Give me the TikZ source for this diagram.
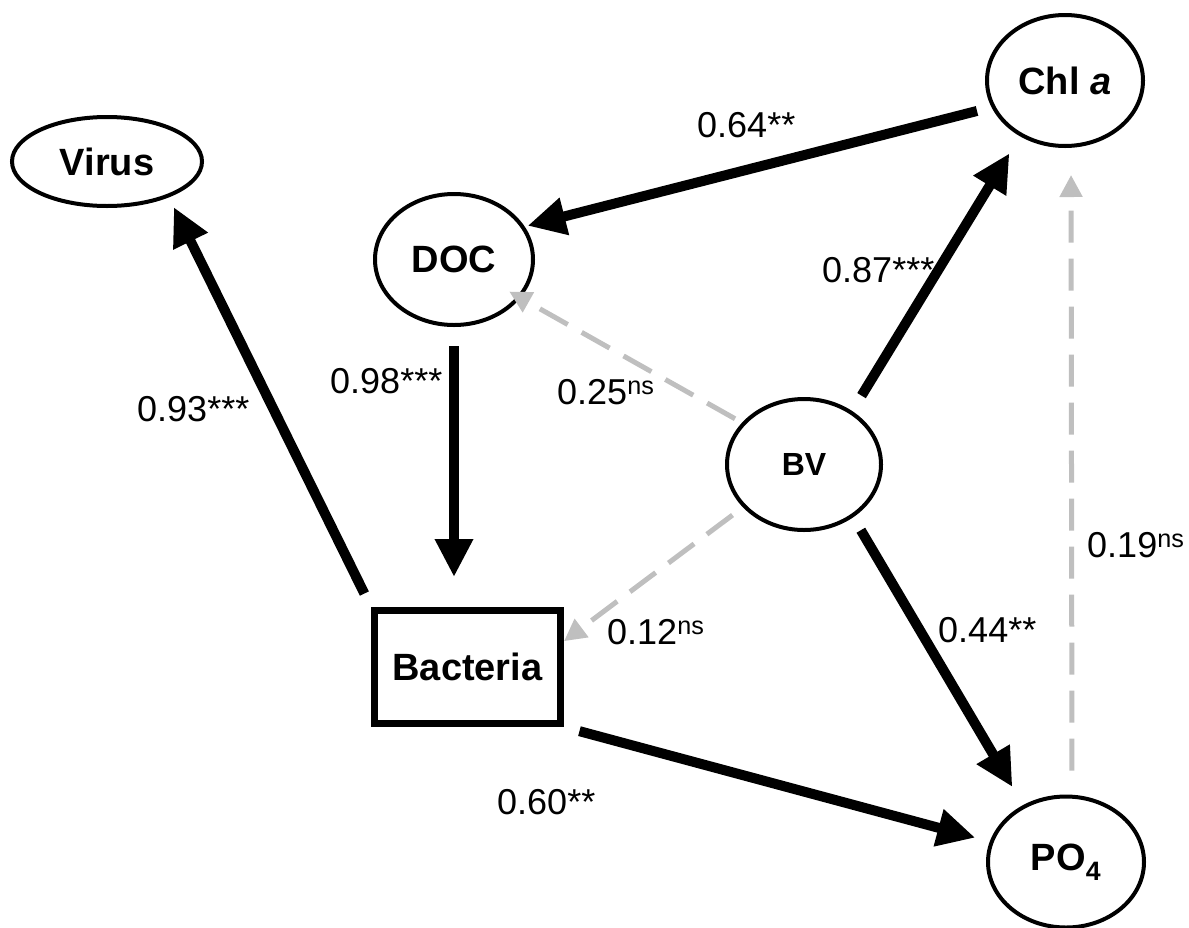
\documentclass[tikz,border=0pt]{standalone}
\usepackage{fontspec}
\setmainfont{Liberation Sans}
\usetikzlibrary{arrows.meta,positioning,shapes}

\begin{document}
\begin{tikzpicture}[x=1pt,y=-1pt,
  var/.style={draw,ellipse,line width=4pt,inner sep=0pt,minimum width=156pt,minimum height=131pt,font=\fontsize{38}{42}\selectfont\bfseries},
  sig/.style={draw,line width=10pt,-{Triangle[length=38pt,width=36pt]}},
  nsig/.style={draw,black!25,line width=5pt,dash pattern=on 32pt off 16pt,-{Triangle[length=22pt,width=22pt]}},
  coef/.style={anchor=base west,inner sep=0pt,font=\fontsize{36}{40}\selectfont}]
\useasboundingbox (0,0) rectangle (1189,927);
% variables
\node[var,minimum width=190pt,minimum height=89pt] (virus) at (107,161.5) {Virus};
\node[var] (chl) at (1065,80.5) {Chl \textit{a}};
\node[var,minimum width=158pt] (doc) at (454,259.5) {DOC};
\node[var,font=\fontsize{32}{36}\selectfont\bfseries,minimum width=154pt] (bv) at (804,464.5) {BV};
\node[draw,line width=7pt,minimum width=186pt,minimum height=113pt,inner sep=0pt,font=\fontsize{38}{42}\selectfont\bfseries] (bact) at (467.5,667) {Bacteria};
\node[var] (po4) at (1066,862) {PO$_\mathbf{4}$};
% paths
\draw[sig,shorten <=15pt,shorten >=11pt] (bact.north west) -- (virus.330);
\draw[sig,shorten <=19pt,shorten >=30pt] (doc.south) -- (doc.south |- bact.north);
\draw[sig,shorten <=15pt,shorten >=3pt] (chl.200) -- (doc.25);
\draw[sig,shorten <=18pt,shorten >=20pt] (bv.48) -- (chl.231);
\draw[sig,shorten <=15pt,shorten >=21pt] (bv.-47) -- (po4.127);
\draw[sig,shorten <=16pt,shorten >=15pt] (bact.south east) -- (po4.165);
\draw[nsig,shorten <=8pt,shorten >=-13pt] (bv.146) -- (doc.330);
\draw[nsig,shorten <=13pt] (bv.215) -- (bact.15);
\draw[nsig,shorten <=24pt,shorten >=27pt] ([xshift=6pt]po4.north) -- ([xshift=6pt]chl.south);
% coefficients
\node[coef] (c1) at (697,137) {0.64**};
\node[coef] (c2) at (822,282) {0.87***};
\node[coef] (c3) at (330,393) {0.98***};
\node[coef] (c4) at (557,404) {0.25\textsuperscript{ns}};
\node[coef] (c5) at (137,421) {0.93***};
\node[coef] (c6) at (1087,557) {0.19\textsuperscript{ns}};
\node[coef] (c7) at (938,642) {0.44**};
\node[coef] (c8) at (607,644) {0.12\textsuperscript{ns}};
\node[coef] (c9) at (497,814) {0.60**};
\end{tikzpicture}
\end{document}
